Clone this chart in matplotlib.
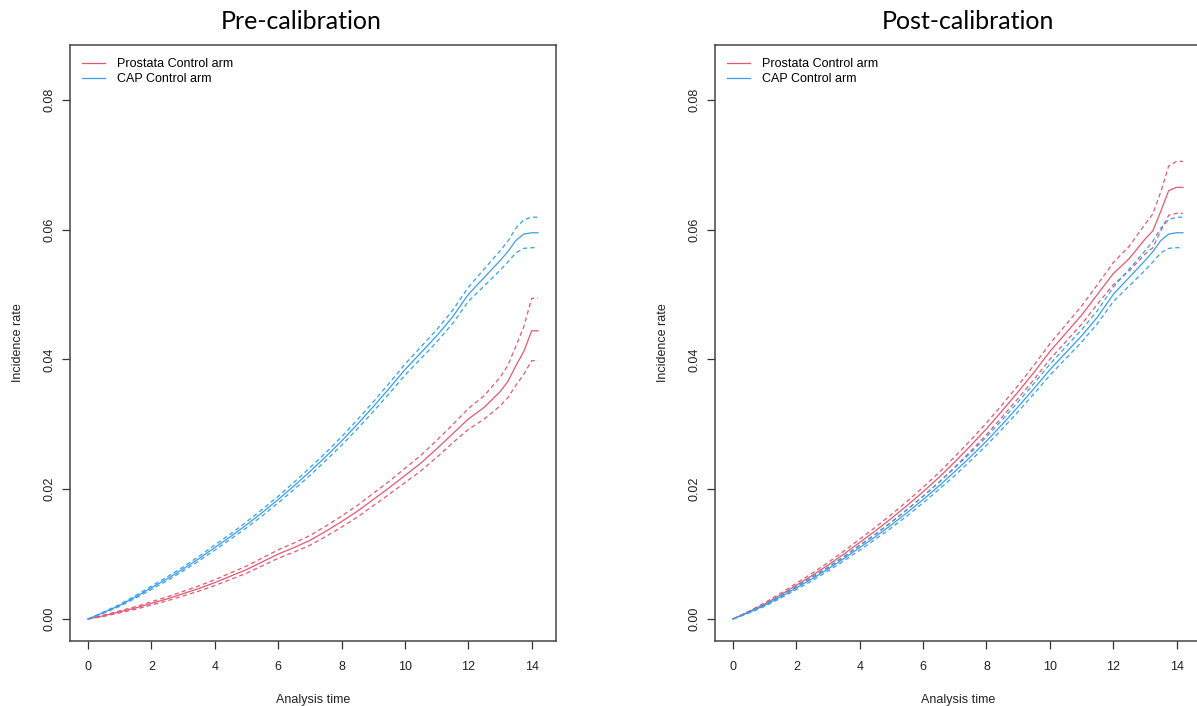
"""Cumulative incidence, control arms: pre- vs post-calibration (two panels)."""
import matplotlib

matplotlib.use("Agg")
import matplotlib.pyplot as plt

plt.rcParams["font.family"] = ["Liberation Sans", "DejaVu Sans"]

# ---------------- data ----------------
TIME = [0, 0.5, 1, 1.5, 2, 2.5, 3, 3.5, 4, 4.5, 5, 5.5, 6, 6.5, 7, 7.5, 8, 8.5,
        9, 9.5, 10, 10.5, 11, 11.5, 12, 12.5, 13, 13.25, 13.5, 13.75, 14.0, 14.2]

# CAP control arm (same in both panels)
cap_mid = [0, 0.0010, 0.0021, 0.0034, 0.0048, 0.0062, 0.0077, 0.0093, 0.0110, 0.0127,
           0.0145, 0.0164, 0.0184, 0.0205, 0.0227, 0.0250, 0.0274, 0.0300, 0.0327, 0.0355,
           0.0384, 0.0410, 0.0436, 0.0465, 0.0500, 0.0526, 0.0552, 0.0566, 0.0583, 0.0593,
           0.0595, 0.0595]
cap_lo = [0, 0.0009, 0.00195, 0.0032, 0.00455, 0.0059, 0.0074, 0.00895, 0.0106, 0.0123,
          0.01405, 0.0159, 0.0179, 0.01995, 0.0221, 0.0244, 0.02675, 0.0293, 0.03195, 0.0347,
          0.03755, 0.0401, 0.04265, 0.0455, 0.0489, 0.0513, 0.0537, 0.0550, 0.0564, 0.0571,
          0.0572, 0.0572]
cap_hi = [0, 0.0011, 0.00225, 0.0036, 0.00505, 0.0065, 0.0080, 0.00965, 0.0114, 0.0131,
          0.01495, 0.0169, 0.0189, 0.02105, 0.0233, 0.0256, 0.02805, 0.0307, 0.03345, 0.0363,
          0.03925, 0.0419, 0.04455, 0.0475, 0.0511, 0.0539, 0.0567, 0.0582, 0.0602, 0.0615,
          0.0619, 0.0619]

# Prostata control arm, pre-calibration
pre_mid = [0, 0.0005, 0.0011, 0.0017, 0.0024, 0.0031, 0.0039, 0.0047, 0.0056, 0.0066,
           0.0076, 0.0088, 0.0100, 0.0110, 0.0121, 0.0135, 0.0150, 0.0166, 0.0184, 0.0202,
           0.0221, 0.0240, 0.0262, 0.0285, 0.0308, 0.0326, 0.0350, 0.0366, 0.0390, 0.0412,
           0.0444, 0.0444]
pre_lo = [0, 0.0004, 0.00095, 0.0015, 0.00215, 0.0028, 0.00355, 0.0043, 0.00515, 0.0061,
          0.00705, 0.0082, 0.00935, 0.0103, 0.01135, 0.0127, 0.01415, 0.0157, 0.01745, 0.0192,
          0.0210, 0.0228, 0.0249, 0.0271, 0.0292, 0.0308, 0.0328, 0.0341, 0.0360, 0.0377,
          0.0398, 0.0398]
pre_hi = [0, 0.0006, 0.00125, 0.0019, 0.00265, 0.0034, 0.00425, 0.0051, 0.00605, 0.0071,
          0.00815, 0.0094, 0.01065, 0.0117, 0.01285, 0.0143, 0.01585, 0.0175, 0.01935, 0.0212,
          0.0232, 0.0252, 0.0275, 0.0299, 0.0324, 0.0344, 0.0372, 0.0391, 0.0420, 0.0450,
          0.0494, 0.0494]

# Prostata control arm, post-calibration
post_mid = [0, 0.0011, 0.0023, 0.0037, 0.0052, 0.0067, 0.0083, 0.0100, 0.0118, 0.0136,
            0.0155, 0.0175, 0.0196, 0.0218, 0.0242, 0.0267, 0.0293, 0.0321, 0.0350, 0.0380,
            0.0412, 0.0440, 0.0468, 0.0500, 0.0532, 0.0555, 0.0585, 0.0598, 0.0628, 0.0660,
            0.0665, 0.0665]
post_lo = [0, 0.0010, 0.0021, 0.00345, 0.0049, 0.00635, 0.0079, 0.00955, 0.0113, 0.01305,
           0.0149, 0.01685, 0.0189, 0.02105, 0.0234, 0.02585, 0.0284, 0.03115, 0.0340, 0.0369,
           0.0400, 0.0427, 0.0454, 0.0485, 0.0515, 0.0536, 0.0562, 0.0572, 0.0598, 0.0622,
           0.0625, 0.0625]
post_hi = [0, 0.0012, 0.0025, 0.00395, 0.0055, 0.00705, 0.0087, 0.01045, 0.0123, 0.01415,
           0.0161, 0.01815, 0.0203, 0.02255, 0.0250, 0.02755, 0.0302, 0.03305, 0.0360, 0.0391,
           0.0424, 0.0453, 0.0482, 0.0515, 0.0549, 0.0574, 0.0608, 0.0624, 0.0658, 0.0698,
           0.0705, 0.0705]

PANELS = [
    ("Pre-calibration", pre_mid, pre_lo, pre_hi, 0.475),
    ("Post-calibration", post_mid, post_lo, post_hi, 0.52),
]
LABELS = ["Prostata Control arm", "CAP Control arm"]
RED, BLUE = "#E05A70", "#3A9EEA"
DASH = (0, (3.5, 2.5))

fig = plt.figure(figsize=(11.97, 7.06), dpi=100)
ax_w, ax_h, ax_b = 0.406, 0.844, 0.092
lefts = [0.0585, 0.5973]

for left, (title, mid, lo, hi, title_x) in zip(lefts, PANELS):
    ax = fig.add_axes([left, ax_b, ax_w, ax_h])
    for col, m, l, h, lab in [(RED, mid, lo, hi, LABELS[0]),
                              (BLUE, cap_mid, cap_lo, cap_hi, LABELS[1])]:
        ax.plot(TIME, m, color=col, lw=0.9, label=lab)
        ax.plot(TIME, l, color=col, lw=0.9, ls=DASH)
        ax.plot(TIME, h, color=col, lw=0.9, ls=DASH)

    ax.set_xlim(-0.568, 14.768)
    ax.set_ylim(-0.0034, 0.0884)
    ax.set_xticks(range(0, 15, 2))
    ax.set_yticks([0, 0.02, 0.04, 0.06, 0.08])
    ax.set_yticklabels(["0.00", "0.02", "0.04", "0.06", "0.08"], rotation=90, va="center")
    ax.tick_params(length=5.5, width=0.9, color="#333333", labelsize=9,
                   labelcolor="#222222")
    ax.tick_params(axis="x", pad=9)
    ax.tick_params(axis="y", pad=5)
    for sp in ax.spines.values():
        sp.set_color("#444444")
        sp.set_linewidth(1.1)
    ax.set_xlabel("Analysis time", fontsize=9, labelpad=15, color="#222222")
    ax.set_ylabel("Incidence rate", fontsize=9, labelpad=14, color="#222222")
    ax.set_title(title, fontsize=18, family=["Lato", "DejaVu Sans"], pad=12, x=title_x)
    ax.legend(loc="upper left", bbox_to_anchor=(0.024, 0.978), frameon=False,
              fontsize=9, handlelength=1.85, handletextpad=0.95, labelspacing=0.23,
              borderpad=0, borderaxespad=0)

fig.savefig("out.png", dpi=100)
